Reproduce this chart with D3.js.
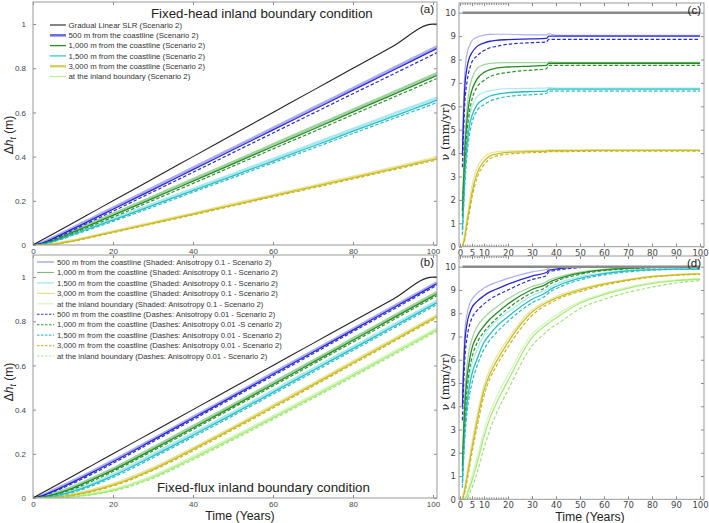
<!DOCTYPE html>
<html>
<head>
<meta charset="utf-8">
<script src="https://cdn.jsdelivr.net/npm/d3@7"></script>
<style>
  body { margin: 0; background: #fff; }
  text { font-family: "Liberation Sans", Arial, sans-serif; }
</style>
</head>
<body>
<svg id="chart" width="709" height="523"></svg>
<script>
// ---- data ----
// time steps, left panels (a, b)
var tAB = [0, 2, 5, 10, 15, 20, 30, 40, 50, 60, 70, 80, 90, 100, 101];
// time steps, right panels (c, d)
var tCD = [1, 2, 3, 4, 5, 7, 10, 12.5, 15, 20, 30, 36, 37, 40, 50, 60, 70, 80, 90, 100];
var tSlr = [1, 100];

var slrLine = [0, 0.02, 0.05, 0.1, 0.15, 0.2, 0.3, 0.4, 0.5, 0.6, 0.7, 0.8, 0.9, 1.0, 1.0];
var slrRate = [10, 10];

// (a) fixed-head, delta h (m)
var aBlue = [0, 0.007, 0.029, 0.073, 0.117, 0.162, 0.251, 0.341, 0.431, 0.521, 0.611, 0.701, 0.791, 0.881, 0.89];
var aBlueShade = [0, 0.01, 0.034, 0.079, 0.124, 0.169, 0.259, 0.35, 0.44, 0.53, 0.62, 0.71, 0.8, 0.89, 0.899];
var aBlueDash = [0, 0.006, 0.025, 0.067, 0.11, 0.153, 0.241, 0.329, 0.418, 0.507, 0.596, 0.685, 0.773, 0.862, 0.871];
var aGreen = [0, 0.004, 0.021, 0.058, 0.096, 0.134, 0.211, 0.289, 0.367, 0.446, 0.524, 0.603, 0.681, 0.76, 0.768];
var aGreenShade = [0, 0.006, 0.025, 0.063, 0.102, 0.141, 0.219, 0.298, 0.376, 0.455, 0.534, 0.612, 0.691, 0.77, 0.778];
var aGreenDash = [0, 0.003, 0.018, 0.053, 0.089, 0.126, 0.202, 0.279, 0.357, 0.435, 0.512, 0.59, 0.668, 0.746, 0.754];
var aCyan = [0, 0.003, 0.016, 0.048, 0.08, 0.113, 0.179, 0.246, 0.313, 0.38, 0.447, 0.515, 0.582, 0.649, 0.656];
var aCyanShade = [0, 0.004, 0.019, 0.052, 0.085, 0.119, 0.186, 0.254, 0.322, 0.389, 0.457, 0.525, 0.593, 0.66, 0.667];
var aCyanDash = [0, 0.002, 0.014, 0.044, 0.075, 0.107, 0.172, 0.239, 0.305, 0.372, 0.438, 0.505, 0.572, 0.638, 0.645];
var aYellow = [0, 0.0003, 0.004, 0.019, 0.039, 0.059, 0.099, 0.14, 0.181, 0.222, 0.263, 0.304, 0.345, 0.386, 0.39];
var aYellowShade = [0, 0.0005, 0.005, 0.021, 0.041, 0.061, 0.102, 0.143, 0.185, 0.226, 0.267, 0.309, 0.35, 0.392, 0.396];
var aYellowDash = [0, 0.0002, 0.003, 0.017, 0.036, 0.056, 0.096, 0.136, 0.177, 0.218, 0.258, 0.299, 0.34, 0.381, 0.385];

// (b) fixed-flux, delta h (m)
var bBlue = [0, 0.008, 0.03, 0.072, 0.117, 0.164, 0.262, 0.361, 0.46, 0.56, 0.66, 0.76, 0.86, 0.96, 0.97];
var bBlueShade = [0, 0.01, 0.035, 0.078, 0.123, 0.17, 0.268, 0.367, 0.466, 0.566, 0.666, 0.766, 0.866, 0.966, 0.976];
var bBlueDash = [0, 0.007, 0.027, 0.066, 0.11, 0.157, 0.255, 0.354, 0.453, 0.553, 0.653, 0.753, 0.853, 0.953, 0.963];
var bGreen = [0, 0.004, 0.015, 0.045, 0.084, 0.126, 0.22, 0.317, 0.415, 0.514, 0.614, 0.714, 0.814, 0.914, 0.924];
var bGreenShade = [0, 0.005, 0.019, 0.051, 0.091, 0.133, 0.228, 0.325, 0.423, 0.522, 0.622, 0.722, 0.822, 0.922, 0.932];
var bGreenDash = [0, 0.003, 0.013, 0.04, 0.078, 0.12, 0.213, 0.31, 0.408, 0.507, 0.606, 0.706, 0.806, 0.906, 0.916];
var bCyan = [0, 0.002, 0.008, 0.03, 0.062, 0.1, 0.19, 0.284, 0.38, 0.478, 0.577, 0.676, 0.775, 0.874, 0.884];
var bCyanShade = [0, 0.003, 0.011, 0.035, 0.068, 0.107, 0.198, 0.292, 0.388, 0.486, 0.585, 0.684, 0.783, 0.882, 0.892];
var bCyanDash = [0, 0.001, 0.006, 0.025, 0.056, 0.093, 0.182, 0.276, 0.372, 0.47, 0.569, 0.668, 0.767, 0.866, 0.876];
var bYellow = [0, 0.0003, 0.003, 0.014, 0.033, 0.058, 0.13, 0.22, 0.315, 0.413, 0.512, 0.612, 0.712, 0.812, 0.822];
var bYellowShade = [0, 0.0005, 0.004, 0.017, 0.037, 0.063, 0.136, 0.226, 0.321, 0.419, 0.518, 0.618, 0.718, 0.818, 0.828];
var bYellowDash = [0, 0.0002, 0.002, 0.012, 0.03, 0.054, 0.125, 0.214, 0.309, 0.407, 0.506, 0.606, 0.706, 0.806, 0.816];
var bLime = [0, 0, 0.001, 0.007, 0.018, 0.035, 0.095, 0.18, 0.27, 0.363, 0.458, 0.555, 0.653, 0.752, 0.762];
var bLimeShade = [0, 0, 0.002, 0.009, 0.021, 0.039, 0.1, 0.186, 0.276, 0.369, 0.464, 0.561, 0.659, 0.758, 0.768];
var bLimeDash = [0, 0, 0.0005, 0.005, 0.015, 0.031, 0.089, 0.173, 0.263, 0.356, 0.451, 0.548, 0.646, 0.745, 0.755];

// (c) fixed-head, rate v (mm/yr)
var cBlue = [3.9, 6.8, 7.7, 8.1, 8.3, 8.55, 8.7, 8.78, 8.82, 8.85, 8.88, 8.9, 9.0, 9.0, 9.0, 9.0, 9.0, 9.0, 9.0, 9.0];
var cBlueShade = [4.5, 7.4, 8.3, 8.6, 8.8, 8.95, 9.04, 9.07, 9.08, 9.08, 9.05, 9.05, 9.1, 9.04, 9.03, 9.03, 9.03, 9.03, 9.03, 9.03];
var cBlueDash = [3.4, 6.1, 7.1, 7.6, 7.9, 8.15, 8.38, 8.5, 8.56, 8.65, 8.72, 8.75, 8.86, 8.86, 8.86, 8.86, 8.86, 8.86, 8.86, 8.86];
var cGreen = [1.5, 4.1, 5.5, 6.3, 6.7, 7.15, 7.45, 7.57, 7.63, 7.68, 7.72, 7.75, 7.84, 7.84, 7.84, 7.84, 7.84, 7.84, 7.84, 7.84];
var cGreenShade = [2.0, 4.6, 6.0, 6.8, 7.2, 7.6, 7.78, 7.83, 7.86, 7.87, 7.87, 7.87, 7.9, 7.88, 7.88, 7.88, 7.88, 7.88, 7.88, 7.88];
var cGreenDash = [1.3, 3.6, 5.0, 5.8, 6.3, 6.8, 7.1, 7.27, 7.36, 7.45, 7.55, 7.6, 7.75, 7.75, 7.75, 7.75, 7.75, 7.75, 7.75, 7.75];
var cCyan = [0.7, 3.0, 4.4, 5.2, 5.6, 6.05, 6.3, 6.44, 6.51, 6.58, 6.63, 6.65, 6.73, 6.73, 6.73, 6.73, 6.73, 6.73, 6.73, 6.73];
var cCyanShade = [1.0, 3.4, 4.8, 5.6, 6.0, 6.4, 6.6, 6.67, 6.71, 6.75, 6.77, 6.78, 6.8, 6.78, 6.78, 6.78, 6.78, 6.78, 6.78, 6.78];
var cCyanDash = [0.5, 2.6, 4.0, 4.8, 5.3, 5.8, 6.07, 6.22, 6.31, 6.42, 6.5, 6.55, 6.65, 6.65, 6.65, 6.65, 6.65, 6.65, 6.65, 6.65];
var cYellow = [0, 0.4, 1.1, 1.7, 2.3, 3.1, 3.65, 3.88, 3.96, 4.03, 4.07, 4.08, 4.1, 4.1, 4.11, 4.12, 4.12, 4.12, 4.12, 4.12];
var cYellowShade = [0.05, 0.6, 1.3, 2.0, 2.6, 3.35, 3.82, 4.0, 4.05, 4.09, 4.12, 4.13, 4.14, 4.14, 4.14, 4.14, 4.14, 4.14, 4.14, 4.14];
var cYellowDash = [0, 0.3, 0.9, 1.5, 2.1, 2.9, 3.5, 3.76, 3.87, 3.96, 4.02, 4.04, 4.06, 4.06, 4.07, 4.08, 4.08, 4.08, 4.08, 4.08];

// (d) fixed-flux, rate v (mm/yr)
var dBlue = [4.0, 6.7, 7.6, 8.0, 8.25, 8.5, 8.75, 8.92, 9.03, 9.25, 9.6, 9.75, 9.85, 9.9, 9.98, 10, 10, 10, 10, 10];
var dBlueShade = [4.5, 7.2, 8.0, 8.4, 8.6, 8.85, 9.08, 9.22, 9.32, 9.5, 9.78, 9.88, 9.95, 9.97, 10, 10, 10, 10, 10, 10];
var dBlueDash = [3.4, 6.0, 7.0, 7.5, 7.8, 8.1, 8.4, 8.6, 8.75, 9.0, 9.45, 9.62, 9.78, 9.84, 9.96, 10, 10, 10, 10, 10];
var dGreen = [1.4, 4.0, 5.3, 6.0, 6.5, 7.0, 7.45, 7.75, 7.98, 8.4, 9.02, 9.25, 9.32, 9.45, 9.72, 9.86, 9.93, 9.97, 9.99, 10];
var dGreenShade = [1.8, 4.5, 5.8, 6.5, 6.9, 7.4, 7.8, 8.05, 8.25, 8.62, 9.15, 9.35, 9.42, 9.53, 9.77, 9.89, 9.95, 9.98, 10, 10];
var dGreenDash = [1.2, 3.5, 4.8, 5.6, 6.1, 6.7, 7.2, 7.5, 7.75, 8.2, 8.88, 9.13, 9.22, 9.37, 9.67, 9.83, 9.91, 9.95, 9.97, 9.98];
var dCyan = [0.7, 3.0, 4.2, 4.9, 5.4, 6.0, 6.75, 7.1, 7.4, 7.85, 8.6, 8.9, 8.98, 9.15, 9.5, 9.7, 9.82, 9.87, 9.9, 9.9];
var dCyanShade = [1.0, 3.4, 4.6, 5.3, 5.8, 6.4, 7.05, 7.4, 7.65, 8.05, 8.75, 9.02, 9.08, 9.25, 9.57, 9.74, 9.85, 9.9, 9.92, 9.92];
var dCyanDash = [0.5, 2.6, 3.8, 4.5, 5.0, 5.7, 6.45, 6.85, 7.15, 7.65, 8.45, 8.78, 8.88, 9.05, 9.43, 9.65, 9.78, 9.85, 9.88, 9.88];
var dYellow = [0, 0.4, 1.0, 1.6, 2.2, 3.3, 4.7, 5.4, 5.9, 6.75, 8.05, 8.45, 8.5, 8.65, 9.0, 9.25, 9.43, 9.57, 9.65, 9.69];
var dYellowShade = [0.05, 0.55, 1.2, 1.85, 2.45, 3.55, 4.9, 5.6, 6.1, 6.9, 8.15, 8.52, 8.57, 8.72, 9.05, 9.28, 9.46, 9.6, 9.67, 9.71];
var dYellowDash = [0, 0.3, 0.8, 1.4, 2.0, 3.05, 4.45, 5.2, 5.7, 6.55, 7.9, 8.35, 8.4, 8.57, 8.93, 9.2, 9.4, 9.55, 9.63, 9.67];
var dLime = [0, 0, 0.2, 0.5, 0.8, 1.5, 2.7, 3.5, 4.1, 5.1, 6.95, 7.5, 7.58, 7.8, 8.43, 8.8, 9.07, 9.28, 9.4, 9.46];
var dLimeShade = [0, 0.05, 0.3, 0.65, 1.0, 1.75, 2.95, 3.75, 4.35, 5.35, 7.1, 7.62, 7.7, 7.92, 8.5, 8.85, 9.12, 9.32, 9.43, 9.5];
var dLimeDash = [0, 0, 0.05, 0.25, 0.5, 1.1, 2.2, 3.0, 3.65, 4.7, 6.6, 7.2, 7.3, 7.5, 8.2, 8.6, 8.9, 9.12, 9.3, 9.4];

// legend texts
var legendA = [
  'Gradual Linear SLR (Scenario 2)',
  '500 m from the coastline (Scenario 2)',
  '1,000 m from the coastline (Scenario 2)',
  '1,500 m from the coastline (Scenario 2)',
  '3,000 m from the coastline (Scenario 2)',
  'at the inland boundary (Scenario 2)'
];
var legendB = [
  '500 m from the coastline (Shaded: Anisotropy 0.1 - Scenario 2)',
  '1,000 m from the coastline (Shaded: Anisotropy 0.1 - Scenario 2)',
  '1,500 m from the coastline (Shaded: Anisotropy 0.1 - Scenario 2)',
  '3,000 m from the coastline (Shaded: Anisotropy 0.1 - Scenario 2)',
  'at the inland boundary (Shaded: Anisotropy 0.1 - Scenario 2)',
  '500 m from the coastline (Dashes: Anisotropy 0.01 - Scenario 2)',
  '1,000 m from the coastline (Dashes: Anisotropy 0.01 -S cenario 2)',
  '1,500 m from the coastline (Dashes: Anisotropy 0.01 - Scenario 2)',
  '3,000 m from the coastline (Dashes: Anisotropy 0.01 - Scenario 2)',
  'at the inland boundary (Dashes: Anisotropy 0.01 - Scenario 2)'
];

var xTicksLeft = [0, 20, 40, 60, 80, 100];
var yTicksLeft = [0, 0.2, 0.4, 0.6, 0.8, 1];
var xTicksRight = [0, 5, 10, 20, 30, 40, 50, 60, 70, 80, 90, 100];
var yTicksRight = [0, 1, 2, 3, 4, 5, 6, 7, 8, 9, 10];

// ---- styles ----
var solid = {blue: '#2626cf', green: '#238a23', cyan: '#20bfc6', yellow: '#c6bf1c', lime: '#a6ec74'};
var shade = {blue: '#a3a3f4', green: '#92cf92', cyan: '#a0e6ec', yellow: '#e6e296', lime: '#d0f5b8'};
var dash = {blue: '#2b2bd6', green: '#2a922a', cyan: '#27bccb', yellow: '#d2b126', lime: '#a2e27a'};

var svg = d3.select('#chart');
var clipId = 0;

function series(t, list) {
  // list: [values, kind, colorName]
  return list.map(function(s) { return {t: t, v: s[0], kind: s[1], c: s[2]}; });
}

function drawPanel(o) {
  var g = svg.append('g');
  var x = o.x, y = o.y;
  var x0 = o.frame[0], y0 = o.frame[1], x1 = o.frame[2], y1 = o.frame[3];

  clipId += 1;
  svg.append('clipPath').attr('id', 'clip' + clipId)
    .append('rect').attr('x', x0).attr('y', y0).attr('width', x1 - x0).attr('height', y1 - y0);

  // axes with inward ticks
  var bottom = g.append('g').attr('transform', 'translate(0,' + y1 + ')')
    .call(d3.axisBottom(x).tickValues(o.xTicks).tickSizeInner(-3).tickSizeOuter(0)
      .tickPadding(o.xPad).tickFormat(d3.format('d')));
  var top = g.append('g').attr('transform', 'translate(0,' + y0 + ')')
    .call(d3.axisTop(x).tickValues(o.xTicks).tickSizeInner(-3).tickSizeOuter(0).tickFormat(''));
  var left = g.append('g').attr('transform', 'translate(' + x0 + ',0)')
    .call(d3.axisLeft(y).tickValues(o.yTicks).tickSizeInner(-3).tickSizeOuter(0)
      .tickPadding(o.yPad).tickFormat(o.yFmt));
  var right = g.append('g').attr('transform', 'translate(' + x1 + ',0)')
    .call(d3.axisRight(y).tickValues(o.yTicks).tickSizeInner(-3).tickSizeOuter(0).tickFormat(''));
  [bottom, top, left, right].forEach(function(a) {
    a.select('.domain').remove();
    a.selectAll('line').attr('stroke', '#888');
    a.selectAll('text').attr('fill', '#444').style('font-size', o.tickFont + 'px')
      .style('font-family', o.tickFamily);
  });

  if (o.minor) {
    var minor = d3.range(0, 21);
    g.append('g').attr('transform', 'translate(0,' + y0 + ')')
      .call(d3.axisTop(x).tickValues(minor).tickSizeInner(-2).tickSizeOuter(0).tickFormat(''))
      .call(function(a) { a.select('.domain').remove(); a.selectAll('line').attr('stroke', '#888'); });
    g.append('g').attr('transform', 'translate(0,' + y1 + ')')
      .call(d3.axisBottom(x).tickValues(minor).tickSizeInner(-2).tickSizeOuter(0).tickFormat(''))
      .call(function(a) { a.select('.domain').remove(); a.selectAll('line').attr('stroke', '#888'); });
  }

  var lines = g.append('g').attr('clip-path', 'url(#clip' + clipId + ')');
  var order = {shade: 0, solid: 1, dash: 2, ref: 3};
  o.series.sort(function(a, b) { return order[a.kind] - order[b.kind]; });
  o.series.forEach(function(s) {
    var line = d3.line()
      .curve(d3.curveMonotoneX)
      .x(function(d, i) { return x(s.t[i]); })
      .y(function(d) { return y(d); });
    var p = lines.append('path')
      .datum(s.v)
      .attr('fill', 'none')
      .attr('stroke-linejoin', 'round')
      .attr('d', line);
    if (s.kind == 'shade') {
      p.attr('stroke', shade[s.c]).attr('stroke-width', o.shadeWidth).attr('opacity', 0.9);
    } else if (s.kind == 'solid') {
      p.attr('stroke', solid[s.c]).attr('stroke-width', 1.3);
    } else if (s.kind == 'dash') {
      p.attr('stroke', dash[s.c]).attr('stroke-width', 1.2).attr('stroke-dasharray', '3.5,2');
    } else {
      p.attr('stroke', s.c).attr('stroke-width', o.refWidth);
    }
  });

  // frame
  g.append('rect')
    .attr('x', x0).attr('y', y0).attr('width', x1 - x0).attr('height', y1 - y0)
    .attr('fill', 'none').attr('stroke', '#999').attr('stroke-width', 1);

  g.append('text').attr('x', x1 - 3).attr('y', y0 + 11).attr('text-anchor', 'end')
    .style('font-size', '11.5px').attr('fill', '#222').text(o.tag);
  return g;
}

function dhLabel(cx, cy) {
  var t = svg.append('text')
    .attr('transform', 'translate(' + cx + ',' + cy + ') rotate(-90)')
    .attr('text-anchor', 'middle').style('font-size', '12px').attr('fill', '#222');
  t.append('tspan').text('\u0394');
  t.append('tspan').style('font-style', 'italic').text('h');
  t.append('tspan').attr('dy', 3).style('font-size', '8.5px').style('font-style', 'italic').text('t');
  t.append('tspan').attr('dy', -3).text(' (m)');
}

function vLabel(cx, cy) {
  svg.append('text')
    .attr('transform', 'translate(' + cx + ',' + cy + ') rotate(-90)')
    .attr('text-anchor', 'middle').style('font-size', '11.5px').attr('fill', '#222')
    .style('font-family', '"DejaVu Serif", serif')
    .text('\u03bd (mm/yr)');
}

// ---- scales ----
var xL = d3.scaleLinear().domain([0, 100]).range([33, 433]);
var yA = d3.scaleLinear().domain([0, 1.1]).range([245, 2]);
var yB = d3.scaleLinear().domain([0, 1.1]).range([498, 255]);
var xR = d3.scaleLinear().domain([0, 100]).range([460, 700]);
var yC = d3.scaleLinear().domain([0, 10]).range([246.7, 12.7]);
var yD = d3.scaleLinear().domain([0, 10]).range([499.3, 266.7]);

var leftOpts = {x: xL, xTicks: xTicksLeft, yTicks: yTicksLeft, yFmt: d3.format('~g'),
  xPad: 3, yPad: 7, tickFont: 8, tickFamily: '"Liberation Sans", Arial, sans-serif',
  refWidth: 1.1, shadeWidth: 2.6};
var rightOpts = {x: xR, xTicks: xTicksRight, yTicks: yTicksRight, yFmt: d3.format('d'),
  xPad: 3, yPad: 3, tickFont: 8.5, tickFamily: '"DejaVu Sans", sans-serif',
  refWidth: 2.6, shadeWidth: 1.2, minor: true};

drawPanel(Object.assign({}, leftOpts, {y: yA, frame: [33, 2, 437, 245], tag: '(a)',
  series: series(tAB, [
    [slrLine, 'ref', '#222'],
    [aBlueShade, 'shade', 'blue'], [aBlue, 'solid', 'blue'], [aBlueDash, 'dash', 'blue'],
    [aGreenShade, 'shade', 'green'], [aGreen, 'solid', 'green'], [aGreenDash, 'dash', 'green'],
    [aCyanShade, 'shade', 'cyan'], [aCyan, 'solid', 'cyan'], [aCyanDash, 'dash', 'cyan'],
    [aYellowShade, 'shade', 'yellow'], [aYellow, 'solid', 'yellow'], [aYellowDash, 'dash', 'yellow']
  ])}));

drawPanel(Object.assign({}, leftOpts, {y: yB, frame: [33, 255, 437, 498], tag: '(b)',
  series: series(tAB, [
    [slrLine, 'ref', '#222'],
    [bBlueShade, 'shade', 'blue'], [bBlue, 'solid', 'blue'], [bBlueDash, 'dash', 'blue'],
    [bGreenShade, 'shade', 'green'], [bGreen, 'solid', 'green'], [bGreenDash, 'dash', 'green'],
    [bCyanShade, 'shade', 'cyan'], [bCyan, 'solid', 'cyan'], [bCyanDash, 'dash', 'cyan'],
    [bYellowShade, 'shade', 'yellow'], [bYellow, 'solid', 'yellow'], [bYellowDash, 'dash', 'yellow'],
    [bLimeShade, 'shade', 'lime'], [bLime, 'solid', 'lime'], [bLimeDash, 'dash', 'lime']
  ])}));

drawPanel(Object.assign({}, rightOpts, {y: yC, frame: [459, 3, 704, 246.7], tag: '(c)',
  series: series(tCD, [
    [cBlueShade, 'shade', 'blue'], [cBlue, 'solid', 'blue'], [cBlueDash, 'dash', 'blue'],
    [cGreenShade, 'shade', 'green'], [cGreen, 'solid', 'green'], [cGreenDash, 'dash', 'green'],
    [cCyanShade, 'shade', 'cyan'], [cCyan, 'solid', 'cyan'], [cCyanDash, 'dash', 'cyan'],
    [cYellowShade, 'shade', 'yellow'], [cYellow, 'solid', 'yellow'], [cYellowDash, 'dash', 'yellow']
  ]).concat(series(tSlr, [[slrRate, 'ref', '#8a8a8a']]))}));

drawPanel(Object.assign({}, rightOpts, {y: yD, frame: [459, 256, 704, 499.3], tag: '(d)',
  series: series(tCD, [
    [dBlueShade, 'shade', 'blue'], [dBlue, 'solid', 'blue'], [dBlueDash, 'dash', 'blue'],
    [dGreenShade, 'shade', 'green'], [dGreen, 'solid', 'green'], [dGreenDash, 'dash', 'green'],
    [dCyanShade, 'shade', 'cyan'], [dCyan, 'solid', 'cyan'], [dCyanDash, 'dash', 'cyan'],
    [dYellowShade, 'shade', 'yellow'], [dYellow, 'solid', 'yellow'], [dYellowDash, 'dash', 'yellow'],
    [dLimeShade, 'shade', 'lime'], [dLime, 'solid', 'lime'], [dLimeDash, 'dash', 'lime']
  ]).concat(series(tSlr, [[slrRate, 'ref', '#8a8a8a']]))}));

// ---- titles and axis labels ----
svg.append('text').attr('x', 151).attr('y', 18).style('font-size', '13.3px').attr('fill', '#222')
  .text('Fixed-head inland boundary condition');
svg.append('text').attr('x', 157).attr('y', 492).style('font-size', '13.3px').attr('fill', '#222')
  .text('Fixed-flux inland boundary condition');
svg.append('text').attr('x', 240).attr('y', 520).attr('text-anchor', 'middle')
  .style('font-size', '12.3px').attr('fill', '#222').text('Time (Years)');
svg.append('text').attr('x', 590).attr('y', 521).attr('text-anchor', 'middle')
  .style('font-size', '12.3px').attr('fill', '#222').text('Time (Years)');
dhLabel(13, 135);
dhLabel(13, 382);
vLabel(449, 132);
vLabel(449, 382);

// ---- legends ----
var legAStyle = [
  {c: '#222', w: 1.1}, {c: '#6f6fe6', w: 2.6}, {c: '#2e8f2e', w: 1.4},
  {c: '#3fd0d4', w: 1.4}, {c: '#d6cf6a', w: 2.6}, {c: '#b8f09c', w: 1.2}
];
var legA = svg.append('g');
legendA.forEach(function(name, i) {
  var yy = 25 + i * 10.3;
  legA.append('line').attr('x1', 50).attr('x2', 66).attr('y1', yy).attr('y2', yy)
    .attr('stroke', legAStyle[i].c).attr('stroke-width', legAStyle[i].w);
  legA.append('text').attr('x', 68.5).attr('y', yy + 2.8).style('font-size', '7.8px')
    .attr('fill', '#333').text(name);
});

var legBStyle = [
  {c: '#8a8ae8', d: null}, {c: '#7cbf7c', d: null}, {c: '#8fe0e6', d: null},
  {c: '#e0d890', d: null}, {c: '#d2f4bf', d: null},
  {c: '#3030d0', d: '2.5,1.5'}, {c: '#2f9a2f', d: '2.5,1.5'}, {c: '#3cc6d6', d: '2.5,1.5'},
  {c: '#e0b23a', d: '2.5,1.5'}, {c: '#b3e893', d: '2.5,1.5'}
];
var legB = svg.append('g');
legendB.forEach(function(name, i) {
  var yy = 262 + i * 10.45;
  legB.append('line').attr('x1', 37).attr('x2', 54).attr('y1', yy).attr('y2', yy)
    .attr('stroke', legBStyle[i].c).attr('stroke-width', 1.1)
    .attr('stroke-dasharray', legBStyle[i].d);
  legB.append('text').attr('x', 57).attr('y', yy + 2.7).style('font-size', '7.7px')
    .attr('fill', '#333').text(name);
});
</script>
</body>
</html>
